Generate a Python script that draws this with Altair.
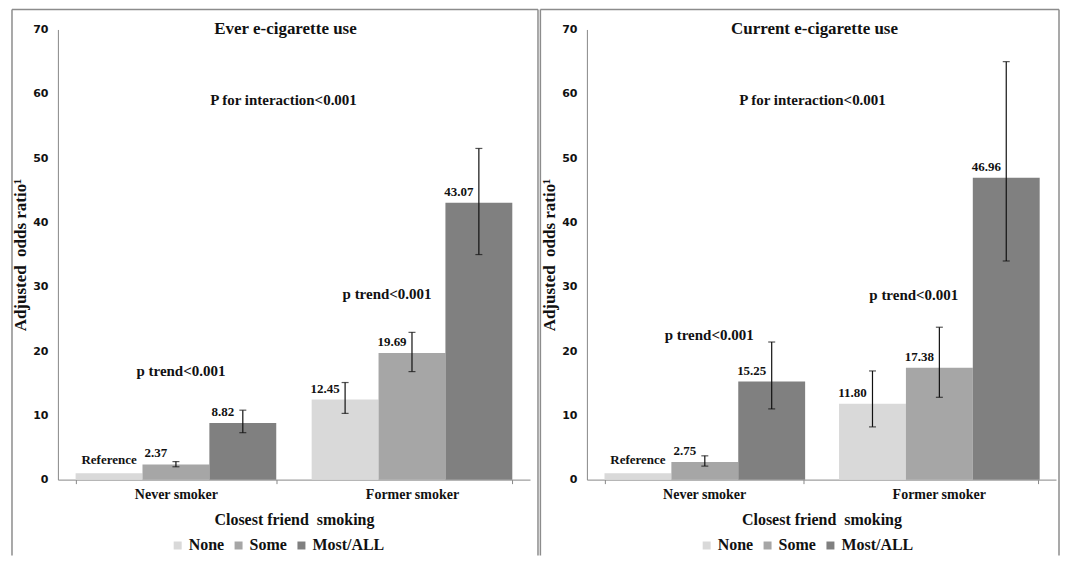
import altair as alt
import pandas as pd

groups = ["Never smoker", "Former smoker"]
friends = ["None", "Some", "Most/ALL"]
colors = ["#d9d9d9", "#a6a6a6", "#808080"]

# Ever e-cigarette use
ever_or = [1.00, 2.37, 8.82, 12.45, 19.69, 43.07]
ever_lo = [None, 2.0, 7.3, 10.3, 16.8, 35.0]
ever_hi = [None, 2.8, 10.8, 15.1, 22.9, 51.5]
ever_lab = ["Reference", "2.37", "8.82", "12.45", "19.69", "43.07"]
ever_ptrend_y = [16.9, 28.9]

# Current e-cigarette use
cur_or = [1.00, 2.75, 15.25, 11.80, 17.38, 46.96]
cur_lo = [None, 2.1, 11.0, 8.2, 12.8, 34.0]
cur_hi = [None, 3.7, 21.4, 16.9, 23.7, 65.0]
cur_lab = ["Reference", "2.75", "15.25", "11.80", "17.38", "46.96"]
cur_ptrend_y = [22.5, 28.7]

interaction_y = 59.1
ptrend_text = "p trend<0.001"
interaction_text = "P for interaction<0.001"
x_title = "Closest friend\u00a0 smoking"
y_title = "Adjusted\u00a0 odds ratio¹"

SERIF = "Liberation Serif"
SANS = "DejaVu Sans"
H = 451


def panel(title, ors, los, his, labs, ptr_y, W, spacer_x, frame_lines):
    rows = []
    for i in range(6):
        rows.append({
            "group": groups[i // 3],
            "friend": friends[i % 3],
            "or": ors[i],
            "lo": los[i],
            "hi": his[i],
            "lab": labs[i],
        })
    df = pd.DataFrame(rows)
    base = alt.Chart(df)

    x = alt.X(
        "group:N", sort=groups,
        scale=alt.Scale(paddingInner=0.15, paddingOuter=0.075),
        axis=alt.Axis(
            title=x_title, labelAngle=0,
            labelFont=SERIF, labelFontWeight="bold", labelFontSize=14, labelColor="#111",
            titleFont=SERIF, titleFontWeight="bold", titleFontSize=16, titleColor="#111",
            titlePadding=10, labelPadding=4, tickBand="extent", tickSize=4,
            domainColor="#888", tickColor="#888",
        ),
    )
    xo = alt.XOffset("friend:N", sort=friends, scale=alt.Scale(paddingInner=0, paddingOuter=0))
    yscale = alt.Scale(domain=[0, 70], nice=False, zero=True)
    y = alt.Y(
        "or:Q", scale=yscale,
        axis=alt.Axis(
            title=y_title, values=list(range(0, 71, 10)), grid=False,
            labelFont=SANS, labelFontWeight="bold", labelFontSize=11, labelColor="#111",
            titleFont=SERIF, titleFontWeight="bold", titleFontSize=17, titleColor="#111",
            titlePadding=3, ticks=False, labelPadding=10, domainColor="#888",
        ),
    )

    bars = base.mark_bar().encode(
        x=x, xOffset=xo, y=y,
        color=alt.Color(
            "friend:N", sort=friends,
            scale=alt.Scale(domain=friends, range=colors),
            legend=alt.Legend(
                orient="none", legendX=112, legendY=509, direction="horizontal", title=None,
                labelFont=SERIF, labelFontWeight="bold", labelFontSize=16, labelColor="#111",
                symbolType="square", symbolSize=64, symbolStrokeWidth=0,
                columnPadding=6, labelOffset=3, padding=0,
            ),
        ),
    )

    err = base.transform_filter("isValid(datum.lo)")
    rule = err.mark_rule(color="#111", strokeWidth=1.2).encode(
        x=x, xOffset=xo, y=alt.Y("lo:Q", scale=yscale), y2="hi:Q")
    cap_lo = err.mark_tick(color="#111", thickness=1.2, size=7).encode(
        x=x, xOffset=xo, y=alt.Y("lo:Q", scale=yscale))
    cap_hi = err.mark_tick(color="#111", thickness=1.2, size=7).encode(
        x=x, xOffset=xo, y=alt.Y("hi:Q", scale=yscale))

    lab_val = base.transform_filter("datum.lab != 'Reference'").mark_text(
        font=SERIF, fontWeight="bold", fontSize=13, color="#111",
        baseline="bottom", dx=-20, dy=-4,
    ).encode(x=x, xOffset=xo, y=alt.Y("or:Q", scale=yscale), text="lab:N")
    lab_ref = base.transform_filter("datum.lab == 'Reference'").mark_text(
        font=SERIF, fontWeight="bold", fontSize=13, color="#111",
        baseline="bottom", dy=-6,
    ).encode(x=x, xOffset=xo, y=alt.Y("or:Q", scale=yscale), text="lab:N")

    pt = pd.DataFrame({"group": groups, "y": ptr_y, "t": [ptrend_text] * 2})
    ptb = alt.Chart(pt)
    pt_never = ptb.transform_filter(f"datum.group == '{groups[0]}'").mark_text(
        font=SERIF, fontWeight="bold", fontSize=15, color="#111", dx=5,
    ).encode(x=x, y=alt.Y("y:Q", scale=yscale), text="t:N")
    pt_former = ptb.transform_filter(f"datum.group == '{groups[1]}'").mark_text(
        font=SERIF, fontWeight="bold", fontSize=15, color="#111", dx=-25,
    ).encode(x=x, y=alt.Y("y:Q", scale=yscale), text="t:N")

    inter = alt.Chart(pd.DataFrame({"y": [interaction_y], "t": [interaction_text]})).mark_text(
        font=SERIF, fontWeight="bold", fontSize=15, color="#111",
    ).encode(x=alt.value(226), y=alt.Y("y:Q", scale=yscale), text="t:N")

    ttl = alt.Chart(pd.DataFrame({"t": [title]})).mark_text(
        font=SERIF, fontWeight="bold", fontSize=17, color="#111", baseline="middle",
    ).encode(x=alt.value(228), y=alt.value(0), text="t:N")

    one = alt.Chart(pd.DataFrame({"a": [0]}))
    fstyle = dict(color="#8c8c8c", strokeWidth=1.5)
    layers = [bars, rule, cap_lo, cap_hi, lab_val, lab_ref, pt_never, pt_former, inter, ttl]
    # invisible spacer that fixes the left edge of the panel box
    layers.append(one.mark_rule(color="#ffffff", strokeOpacity=0, strokeWidth=1.5).encode(
        x=alt.value(spacer_x), x2=alt.value(spacer_x), y=alt.value(0), y2=alt.value(10)))
    fl, fr = min(frame_lines), max(frame_lines)
    layers.append(one.mark_rule(**fstyle).encode(
        x=alt.value(fl), x2=alt.value(fr), y=alt.value(-20), y2=alt.value(-20)))
    for fx in frame_lines:
        layers.append(one.mark_rule(**fstyle).encode(
            x=alt.value(fx), x2=alt.value(fx), y=alt.value(-20), y2=alt.value(527)))
    return alt.layer(*layers).properties(width=W, height=H)


left = panel("Ever e-cigarette use", ever_or, ever_lo, ever_hi, ever_lab, ever_ptrend_y,
             473, -50, [-46, 481])
right = panel("Current e-cigarette use", cur_or, cur_lo, cur_hi, cur_lab, cur_ptrend_y,
              470, -46, [-46.6, 473])

chart = alt.hconcat(left, right, spacing=0).resolve_scale(
    x="independent", y="independent", color="independent"
).resolve_legend(color="independent").properties(
    padding=0, background="white"
).configure_view(stroke=None)

chart.save("out.html", embed_options={"renderer": "svg", "actions": False})
